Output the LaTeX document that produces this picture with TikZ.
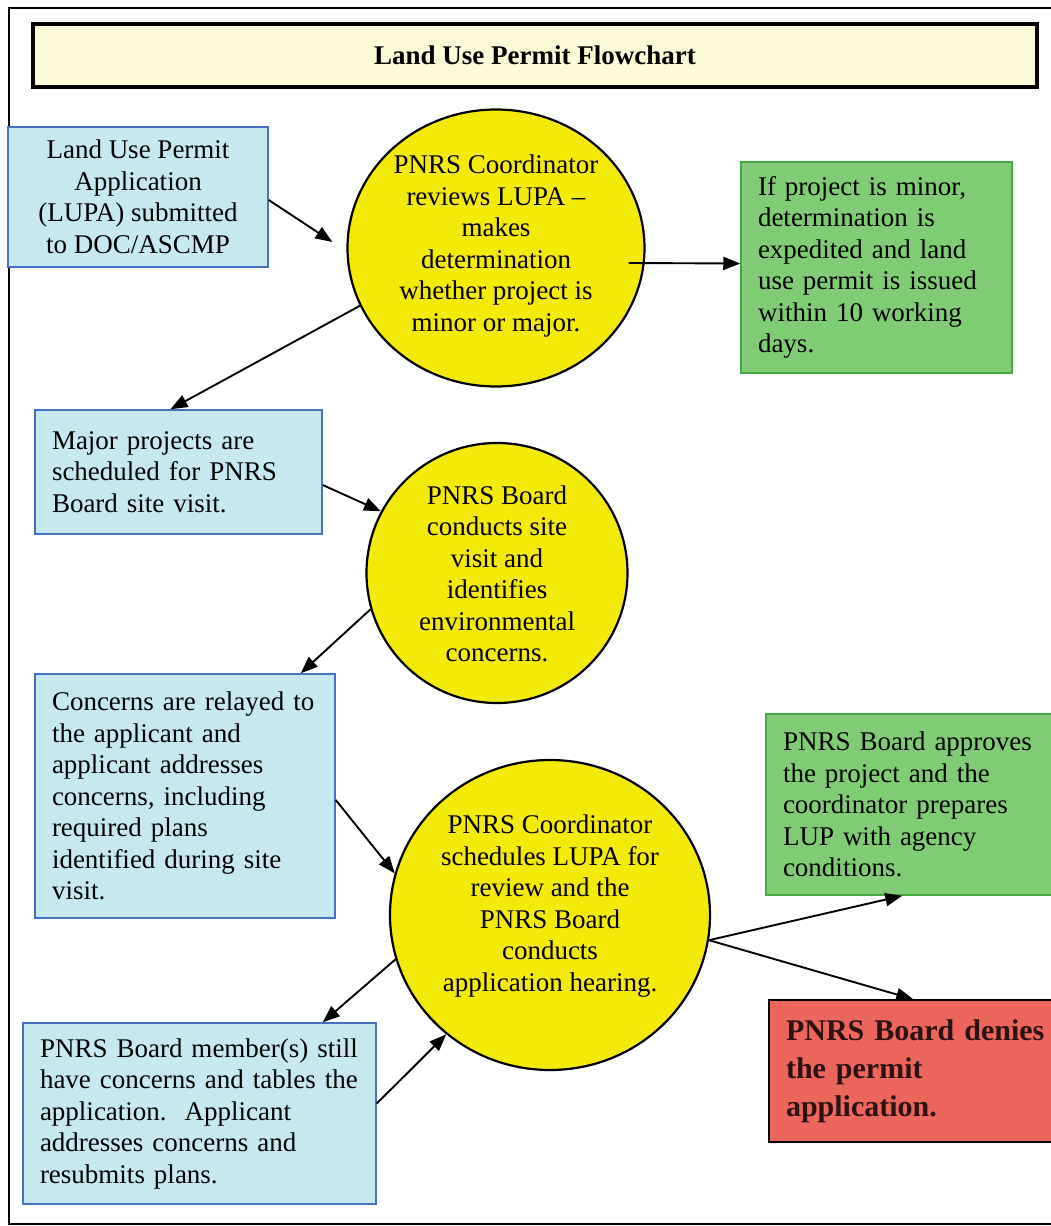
\documentclass[tikz,border=0pt]{standalone}
\usepackage{fontspec}
\setmainfont{Liberation Serif}
\usetikzlibrary{arrows.meta,calc,shapes.geometric}
\definecolor{fillblue}{RGB}{198,233,240}
\definecolor{lineblue}{RGB}{70,112,196}
\definecolor{fillgreen}{RGB}{128,204,116}
\definecolor{linegreen}{RGB}{70,168,66}
\definecolor{fillred}{RGB}{236,102,92}
\definecolor{fillyellow}{RGB}{244,234,10}
\definecolor{filltitle}{RGB}{252,250,214}
\definecolor{redtext}{RGB}{45,18,18}
\begin{document}
\begin{tikzpicture}[x=1pt,y=-1pt,
  txt/.style={font=\fontsize{27}{31.5}\selectfont, inner sep=0pt},
  bluebox/.style={draw=lineblue, line width=1.5pt, fill=fillblue, inner xsep=17pt, inner ysep=0pt, align=left, font=\fontsize{27}{31.5}\selectfont},
  greenbox/.style={draw=linegreen, line width=1.5pt, fill=fillgreen, inner xsep=17pt, inner ysep=0pt, align=left, font=\fontsize{27}{31.5}\selectfont},
  redbox/.style={draw=black, line width=1.5pt, fill=fillred, inner xsep=17pt, inner ysep=0pt, align=left, text=redtext, font=\fontsize{30}{38}\selectfont\bfseries},
  bubble/.style={ellipse, draw=black, line width=2.2pt, fill=fillyellow, inner sep=0pt},
  conn/.style={-{Triangle[length=17pt,width=13pt]}, line width=1.9pt, black}]
\useasboundingbox (0,0) rectangle (1051,1226);
\clip (0,0) rectangle (1051,1226);
\fill[white] (0,0) rectangle (1051,1226);
\draw[line width=2.5pt] (9,8) rectangle (1080,1224);

\node[draw=black, line width=3.5pt, fill=filltitle, minimum width=1004pt, minimum height=63pt, font=\fontsize{27}{31}\selectfont\bfseries] (title) at (535,55.5) {Land Use Permit Flowchart};

\node[bluebox, align=center, minimum width=260pt, minimum height=140pt] (A) at (138,197)
  {Land Use Permit\\Application\\(LUPA) submitted\\to DOC/ASCMP};
\node[greenbox, minimum width=271pt, minimum height=211pt, text width=237pt] (B) at (876.5,267.5)
  {If project is minor,\\determination is\\expedited and land\\use permit is issued\\within 10 working\\days.};
\node[bluebox, minimum width=287pt, minimum height=124pt, text width=253pt] (C) at (178.5,472)
  {Major projects are\\scheduled for PNRS\\Board site visit.};
\node[bluebox, minimum width=300pt, minimum height=244pt, text width=266pt] (D) at (185,796)
  {Concerns are relayed to\\the applicant and\\applicant addresses\\concerns, including\\required plans\\identified during site\\visit.};
\node[greenbox, minimum width=299pt, minimum height=181pt, text width=265pt] (E) at (915.5,804.5)
  {PNRS Board approves\\the project and the\\coordinator prepares\\LUP with agency\\conditions.};
\node[redbox, minimum width=296pt, minimum height=142pt, text width=262pt] (F) at (917,1071)
  {PNRS Board denies\\the permit\\application.};
\node[bluebox, minimum width=353pt, minimum height=181pt, text width=319pt] (G) at (199.5,1113.5)
  {PNRS Board member(s) still\\have concerns and tables the\\application.\ \ Applicant\\addresses concerns and\\resubmits plans.};

\node[bubble, minimum width=297pt, minimum height=277pt] (c1) at (496,248) {};
\node[txt, align=center] (c1t) at (496,246)
  {PNRS Coordinator\\reviews LUPA --\\makes\\determination\\whether project is\\minor or major.};
\node[bubble, minimum width=261pt, minimum height=260pt] (c2) at (497,573) {};
\node[txt, align=center] (c2t) at (497,574)
  {PNRS Board\\conducts site\\visit and\\identifies\\environmental\\concerns.};
\node[bubble, minimum width=320pt, minimum height=310pt] (c3) at (550,915) {};
\node[txt, align=center] (c3t) at (550,906)
  {PNRS Coordinator\\schedules LUPA for\\review and the\\PNRS Board\\conducts\\application hearing.};

\draw[conn] ($(A.east)+(0,3)$) -- ($(c1.west)+(-14,-6)$);
\draw[conn] ($(c1.east)+(-17,15)$) -- ($(B.west)+(0,-4)$);
\draw[conn] (c1.203) -- ($(C.north)+(-8,0)$);
\draw[conn] ($(C.east)+(0,13)$) -- (c2.152);
\draw[conn] (c2.196) -- ($(D.north east)+(-35,0)$);
\draw[conn] ($(D.east)+(0,4)$) -- (c3.165);
\draw[conn] (c3.-9) -- ($(E.south west)+(137,0)$);
\draw[conn] (c3.-9) -- ($(F.north west)+(145,0)$);
\draw[conn] (c3.196) -- ($(G.north east)+(-54,0)$);
\draw[conn] ($(G.east)+(0,-10)$) -- (c3.229);
\end{tikzpicture}
\end{document}
